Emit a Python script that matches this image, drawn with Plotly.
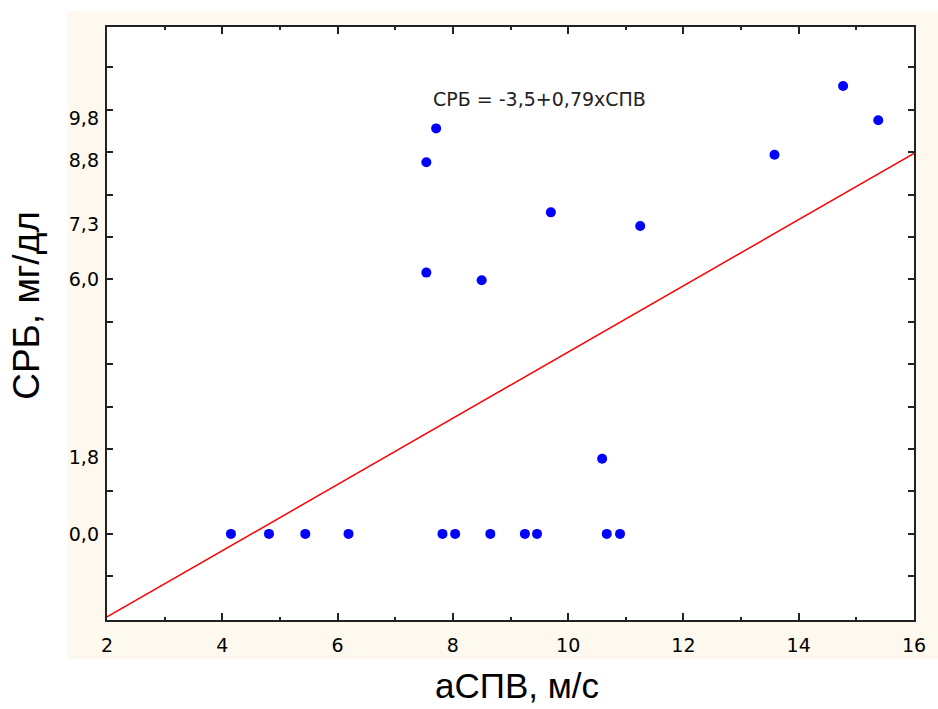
import plotly.graph_objects as go

# Data
aspv = [7.71, 7.54, 9.70, 11.25, 7.54, 8.50, 10.59, 14.77, 15.38, 13.58,
        4.15, 4.81, 5.44, 6.19, 7.82, 8.04, 8.65, 9.25, 9.46, 10.67, 10.90]
crp = [9.56, 8.76, 7.58, 7.26, 6.16, 5.98, 1.77, 10.56, 9.75, 8.94,
       0.0, 0.0, 0.0, 0.0, 0.0, 0.0, 0.0, 0.0, 0.0, 0.0, 0.0]

# Regression line as drawn
reg_intercept = -3.52
reg_slope = 0.7807
reg_x = [2, 16]
reg_y = [reg_intercept + reg_slope * v for v in reg_x]

x_tickvals = [2, 4, 6, 8, 10, 12, 14, 16]
x_ticktext = ["2", "4", "6", "8", "10", "12", "14", "16"]
y_labelvals = [0.0, 1.8, 6.0, 7.3, 8.8, 9.8]
y_labeltext = ["0,0", "1,8", "6,0", "7,3", "8,8", "9,8"]
y_tickmarks = list(range(-1, 12))

equation_text = "СРБ = -3,5+0,79хСПВ"
x_title = "аСПВ, м/с"
y_title = "СРБ, мг/дл"

XR = [2, 16]
YR = [-2.03, 11.95]

TICKFONT = "DejaVu Sans, Verdana, sans-serif"
TITLEFONT = "Liberation Sans, Arial, sans-serif"

fig = go.Figure()
fig.add_trace(go.Scatter(
    x=aspv, y=crp, mode="markers",
    marker=dict(color="#0000FF", size=10, line=dict(width=0)),
    showlegend=False, hoverinfo="x+y"))
fig.add_trace(go.Scatter(
    x=reg_x, y=reg_y, mode="lines", yaxis="y2",
    line=dict(color="#FF0000", width=1.5),
    showlegend=False))

fig.update_layout(
    width=938, height=709,
    margin=dict(l=107, r=16, t=27, b=89),
    paper_bgcolor="white", plot_bgcolor="white",
    font=dict(family=TICKFONT, color="black"),
    xaxis=dict(
        range=XR, tickmode="array", tickvals=x_tickvals, ticktext=x_ticktext,
        ticks="inside", ticklen=7, tickwidth=2, tickcolor="#222",
        minor=dict(tickmode="linear", tick0=1, dtick=2, ticks="inside",
                   ticklen=3, tickwidth=2, tickcolor="#222", showgrid=False),
        showline=True, linecolor="#222", linewidth=2, mirror="ticks",
        showgrid=False, zeroline=False,
        tickfont=dict(family=TICKFONT, size=19, color="black"),
        ticklabelstandoff=7,
    ),
    yaxis=dict(
        range=YR, tickmode="array", tickvals=y_tickmarks,
        ticktext=["" for _ in y_tickmarks],
        ticks="inside", ticklen=6, tickwidth=2, tickcolor="#222",
        showline=True, linecolor="#222", linewidth=2, mirror="ticks",
        showgrid=False, zeroline=False,
    ),
    yaxis2=dict(
        range=YR, overlaying="y", side="left",
        tickmode="array", tickvals=y_labelvals, ticktext=y_labeltext,
        ticks="", showline=False, showgrid=False, zeroline=False,
        tickfont=dict(family=TICKFONT, size=19, color="black"),
        ticklabelstandoff=7,
    ),
    shapes=[
        dict(type="rect", xref="paper", yref="paper", layer="below",
             x0=-0.0491, x1=1.03, y0=-0.0658, y1=1.027,
             fillcolor="#FEF9EE", line=dict(width=0)),
        dict(type="rect", xref="paper", yref="paper", layer="below",
             x0=0, x1=1, y0=0, y1=1,
             fillcolor="white", line=dict(width=0)),
    ],
    annotations=[
        dict(text=equation_text, x=9.51, y=10.26, xref="x", yref="y",
             showarrow=False,
             font=dict(family=TICKFONT, size=19, color="#222"),
             xanchor="center", yanchor="middle"),
        dict(text=x_title, x=0.508, y=-0.1475, xref="paper", yref="paper",
             showarrow=False,
             font=dict(family=TITLEFONT, size=35, color="black"),
             xanchor="center", yanchor="bottom"),
        dict(text=y_title, x=-0.099, y=0.530, xref="paper", yref="paper",
             showarrow=False,
             font=dict(family=TITLEFONT, size=37, color="black"),
             textangle=-90, xanchor="center", yanchor="middle"),
    ],
)

# remove the default page margin so the figure fills the window exactly
fig.write_html(
    "out.html",
    config={"displayModeBar": False},
    post_script="document.body.style.margin='0';"
                "document.body.style.overflow='hidden';",
)
